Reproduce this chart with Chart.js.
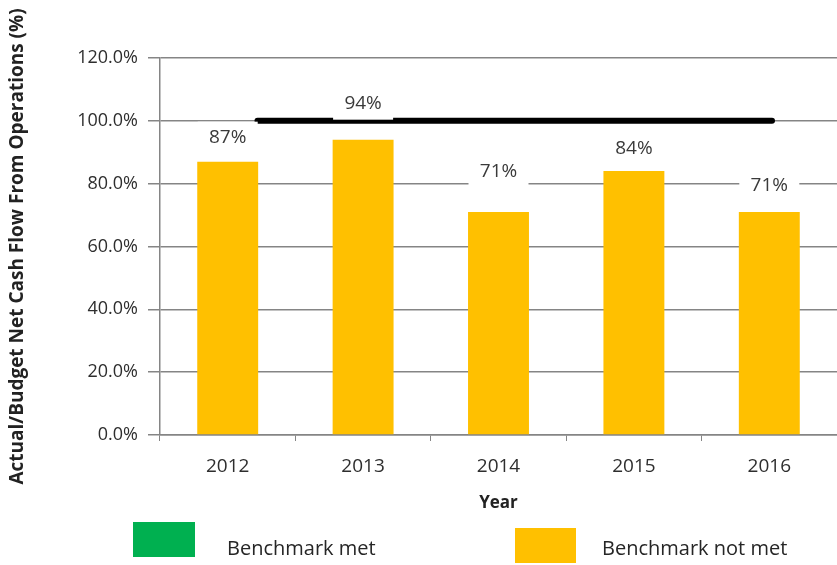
<!DOCTYPE html>
<html>
<head>
<meta charset="utf-8">
<script src="https://cdn.jsdelivr.net/npm/chart.js@4"></script>
<style>
  body { margin: 0; background: #fff; }
  canvas { display: block; }
</style>
</head>
<body>
<canvas id="cashChart" width="837" height="565"></canvas>
<script>
// data
const years = ['2012', '2013', '2014', '2015', '2016'];
const ratioPct = [87, 94, 71, 84, 71];
const valueLabels = ['87%', '94%', '71%', '84%', '71%'];
const yTicks = [0, 20, 40, 60, 80, 100, 120];
const benchmarkX = [0.22, 4.02];   // category index units
const benchmarkY = [100, 100];
const legendNames = ['Benchmark met', 'Benchmark not met'];

const ORANGE = '#FFC000';
const GREEN = '#00B050';
const GRID = '#858585';
const FONT = '"Open Sans", "Noto Sans", sans-serif';

// value labels with white boxes, manually lifted like in the original
const labelPlugin = {
  id: 'valueLabels',
  afterDatasetsDraw(chart) {
    const lift = [24, 36, 40, 23, 26];
    const meta = chart.getDatasetMeta(0);
    const ctx = chart.ctx;
    ctx.save();
    ctx.font = '19px ' + FONT;
    ctx.textAlign = 'center';
    ctx.textBaseline = 'middle';
    meta.data.forEach((bar, i) => {
      const cy = bar.y - lift[i];
      ctx.fillStyle = '#fff';
      ctx.fillRect(bar.x - 30, cy - 16, 60, 32);
      ctx.fillStyle = '#3a3a3a';
      ctx.fillText(valueLabels[i], bar.x, cy);
    });
    ctx.restore();
  }
};

// bottom legend
const legendPlugin = {
  id: 'bottomLegend',
  afterDraw(chart) {
    const ctx = chart.ctx;
    ctx.save();
    ctx.fillStyle = GREEN;
    ctx.fillRect(133, 522, 62, 35);
    ctx.fillStyle = ORANGE;
    ctx.fillRect(515, 528, 61, 35);
    ctx.font = '20px ' + FONT;
    ctx.fillStyle = '#262626';
    ctx.textBaseline = 'alphabetic';
    ctx.textAlign = 'left';
    ctx.fillText(legendNames[0], 227, 555);
    ctx.fillText(legendNames[1], 602, 555);
    ctx.restore();
  }
};

const ctx = document.getElementById('cashChart').getContext('2d');
new Chart(ctx, {
  type: 'bar',
  data: {
    labels: years,
    datasets: [
      {
        label: 'Actual/Budget',
        data: ratioPct,
        backgroundColor: ORANGE,
        grouped: false,
        categoryPercentage: 1,
        barPercentage: 0.45,
        order: 2
      },
      {
        type: 'line',
        label: 'Benchmark',
        xAxisID: 'x2',
        data: benchmarkX.map((x, i) => ({ x: x, y: benchmarkY[i] })),
        borderColor: '#000',
        borderWidth: 6,
        borderCapStyle: 'round',
        pointRadius: 0,
        fill: false,
        order: 1
      }
    ]
  },
  options: {
    responsive: false,
    animation: false,
    layout: { padding: { top: 58, right: 0, bottom: 50, left: 0 } },
    plugins: {
      legend: { display: false },
      tooltip: { enabled: false }
    },
    scales: {
      x: {
        afterFit(scale) { scale.height = 80; },
        grid: {
          drawOnChartArea: false,
          drawTicks: true,
          tickLength: 6,
          color: GRID,
          offset: true
        },
        border: { color: GRID, width: 1.5 },
        ticks: {
          padding: 14,
          color: '#2e2e2e',
          font: { family: FONT, size: 19 }
        },
        title: {
          display: true,
          text: 'Year',
          color: '#222',
          font: { family: FONT, size: 17, weight: 'bold' },
          padding: { top: 2, bottom: 2 }
        }
      },
      x2: {
        type: 'linear',
        display: false,
        offset: false,
        min: -0.5,
        max: 4.5
      },
      y: {
        min: 0,
        max: 120,
        afterFit(scale) { scale.width = 160; },
        afterBuildTicks(scale) { scale.ticks = yTicks.map(v => ({ value: v })); },
        grid: {
          color: GRID,
          lineWidth: 1.5,
          tickLength: 12
        },
        border: { color: GRID, width: 1.5 },
        ticks: {
          padding: 10,
          color: '#2e2e2e',
          font: { family: FONT, size: 18 },
          callback: v => v.toFixed(1) + '%'
        },
        title: {
          display: true,
          text: 'Actual/Budget Net Cash Flow From Operations (%)',
          color: '#222',
          font: { family: FONT, size: 19, weight: 'bold' },
          padding: { top: 6, bottom: 4 }
        }
      }
    }
  },
  plugins: [labelPlugin, legendPlugin]
});
</script>
</body>
</html>
